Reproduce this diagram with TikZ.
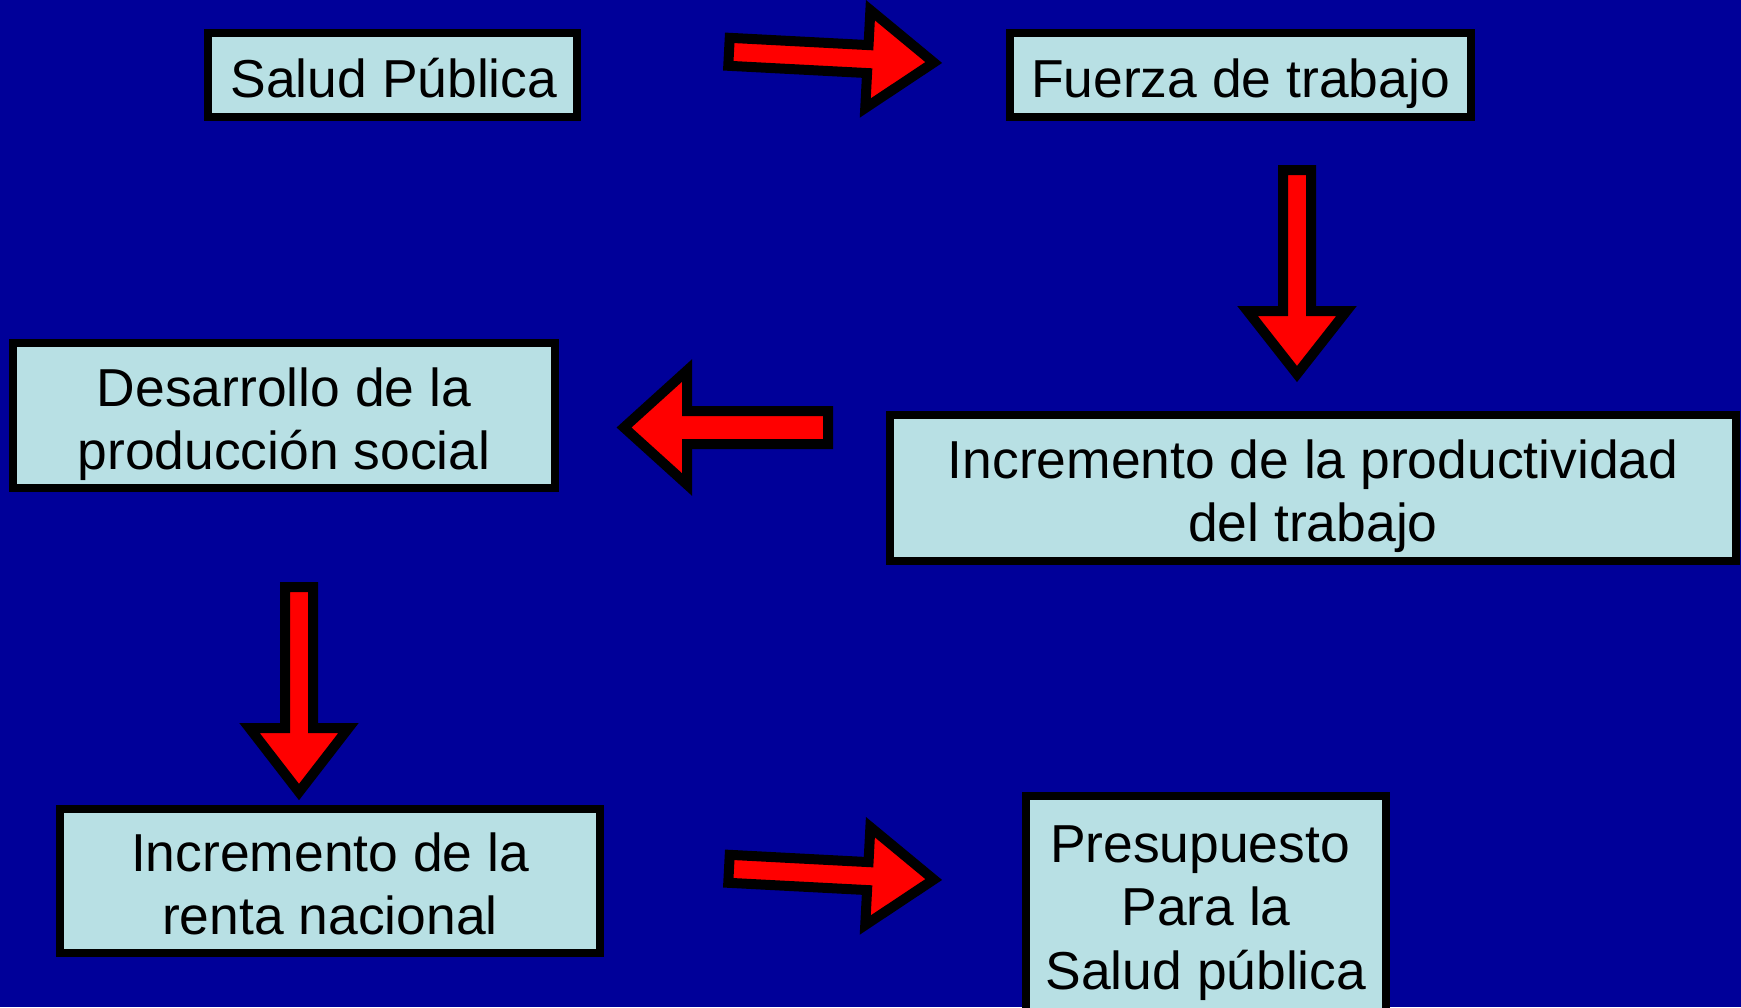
\documentclass[tikz,border=0pt]{standalone}
\usepackage{fontspec}
\setmainfont{Liberation Sans}
\definecolor{bgblue}{RGB}{0,0,153}
\definecolor{boxfill}{RGB}{184,224,228}
\tikzset{
  box/.style={draw=black, line width=0.08cm, fill=boxfill, inner sep=0pt},
  lbl/.style={anchor=base, inner sep=0pt, text=black, font=\fontsize{15.2}{18}\selectfont},
  blockarrow/.style={draw=black, fill=red, line width=0.1cm, line join=miter, miter limit=10}
}
\begin{document}
\begin{tikzpicture}
\useasboundingbox (0,0) rectangle (17.41,-10.07);
\clip (0,0) rectangle (17.41,-10.07);
\fill[bgblue] (0,0) rectangle (17.41,-10.07);

% boxes
\node[box, minimum width=3.69cm, minimum height=0.84cm] (sp) at (3.925,-0.75) {};
\node[box, minimum width=4.61cm, minimum height=0.84cm] (ft) at (12.405,-0.75) {};
\node[box, minimum width=5.42cm, minimum height=1.45cm] (dp) at (2.84,-4.155) {};
\node[box, minimum width=8.46cm, minimum height=1.46cm] (ip) at (13.13,-4.88) {};
\node[box, minimum width=5.40cm, minimum height=1.44cm] (rn) at (3.30,-8.81) {};
\node[box, minimum width=3.60cm, minimum height=2.22cm] (ps) at (12.06,-9.07) {};

% texts
\node[lbl] (spa) at (3.94,-0.97) {Salud Pública};
\node[lbl] (fta) at (12.405,-0.97) {Fuerza de trabajo};
\node[lbl] (dpa) at (2.84,-4.0625) {Desarrollo de la};
\node[lbl] (dpb) at (2.84,-4.6925) {producción social};
\node[lbl] (ipa) at (13.13,-4.7875) {Incremento de la productividad};
\node[lbl] (ipb) at (13.13,-5.4175) {del trabajo};
\node[lbl] (rna) at (3.30,-8.7175) {Incremento de la};
\node[lbl] (rnb) at (3.30,-9.3475) {renta nacional};
\node[lbl] (psa) at (12.00,-8.62) {Presupuesto};
\node[lbl] (psb) at (12.06,-9.255) {Para la};
\node[lbl] (psc) at (12.06,-9.89) {Salud pública};

% block arrows
\begin{scope}[shift={(7.29,-0.518)}, rotate=-3]
\draw[blockarrow] (0,0.14) -- (1.39,0.14) -- (1.39,0.49) -- (2.05,0) -- (1.39,-0.49) -- (1.39,-0.14) -- (0,-0.14) -- cycle;
\end{scope}
\begin{scope}[shift={(7.29,-8.688)}, rotate=-3]
\draw[blockarrow] (0,0.14) -- (1.39,0.14) -- (1.39,0.49) -- (2.05,0) -- (1.39,-0.49) -- (1.39,-0.14) -- (0,-0.14) -- cycle;
\end{scope}
\draw[blockarrow] (12.83,-1.70) -- (13.11,-1.70) -- (13.11,-3.11) -- (13.465,-3.11) -- (12.97,-3.74) -- (12.475,-3.11) -- (12.83,-3.11) -- cycle;
\draw[blockarrow] (2.85,-5.87) -- (3.13,-5.87) -- (3.13,-7.28) -- (3.485,-7.28) -- (2.99,-7.92) -- (2.495,-7.28) -- (2.85,-7.28) -- cycle;
\draw[blockarrow] (8.28,-4.11) -- (6.87,-4.11) -- (6.87,-3.705) -- (6.24,-4.275) -- (6.87,-4.845) -- (6.87,-4.44) -- (8.28,-4.44) -- cycle;
\end{tikzpicture}
\end{document}
